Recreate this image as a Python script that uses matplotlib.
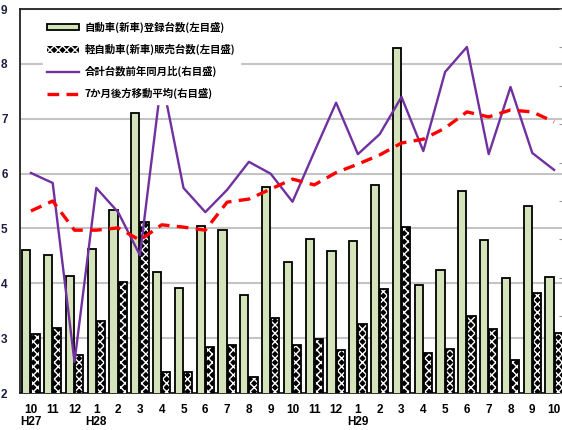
import numpy as np
import matplotlib
matplotlib.use("Agg")
import matplotlib.pyplot as plt
from matplotlib.patches import Patch
from matplotlib.lines import Line2D

# months H27/10 .. H29/10
months = ["10", "11", "12", "1", "2", "3", "4", "5", "6", "7", "8", "9",
          "10", "11", "12", "1", "2", "3", "4", "5", "6", "7", "8", "9", "10"]
year_labels = {0: "H27", 3: "H28", 15: "H29"}

# left axis (bars)
registered = [4.61, 4.52, 4.13, 4.62, 5.34, 7.11, 4.21, 3.91, 5.05, 4.98, 3.79, 5.76,
              4.39, 4.80, 4.59, 4.77, 5.79, 8.28, 3.97, 4.24, 5.69, 4.78, 4.09, 5.41, 4.11]
kei_sales = [3.08, 3.18, 2.70, 3.31, 4.02, 5.11, 2.39, 2.39, 2.84, 2.87, 2.29, 3.36,
             2.87, 2.98, 2.78, 3.26, 3.90, 5.03, 2.73, 2.80, 3.41, 3.17, 2.61, 3.82, 3.10]

# right axis (lines)
yoy = [117.3, 114.7, 68.1, 113.4, 107.1, 95.9, 142.0, 113.4, 107.1, 112.9, 120.2, 117.1,
       109.8, 122.8, 135.6, 122.2, 127.4, 137.1, 123.0, 143.6, 150.1, 122.2, 139.7, 122.5, 118.1]
ma7 = [107.4, 110.0, 102.4, 102.4, 103.0, 99.8, 103.8, 103.2, 102.4, 109.7, 110.5, 113.1,
       115.7, 114.2, 117.4, 119.6, 122.0, 125.1, 126.1, 129.0, 133.2, 131.9, 133.7, 133.2, 130.6]

labels = ["自動車(新車)登録台数(左目盛)", "軽自動車(新車)販売台数(左目盛)",
          "合計台数前年同月比(右目盛)", "7か月後方移動平均(右目盛)"]

green = "#d5e3bb"
purple = "#7030a0"
W, H = 562, 430

fig = plt.figure(figsize=(W / 100, H / 100), dpi=100)
ax = fig.add_axes([20 / W, 37 / H, 545 / W, 384 / H])
x = np.arange(len(months))

ax.bar(x - 0.21, registered, width=0.38, color=green, edgecolor="black", linewidth=1.3, zorder=3)
ax.bar(x + 0.21, kei_sales, width=0.38, color="black", edgecolor="white", hatch="xxxx",
       linewidth=0, zorder=3)
ax.bar(x + 0.21, kei_sales, width=0.38, color="none", edgecolor="black", linewidth=1.3, zorder=4)

ax.set_xlim(-0.5, len(months) - 0.5)
ax.set_ylim(2, 9)
ax.set_yticks(range(2, 10))
ax.grid(axis="y", color="#c4c4c4", linewidth=1.5, zorder=0)
ax.set_axisbelow(True)
ax.set_xticks(x, months)
ax.tick_params(axis="both", length=0, labelsize=8.5)
ax.tick_params(axis="x", pad=8)
ax.tick_params(axis="y", pad=9, labelcolor="#1c1c40")
for lab in ax.get_xticklabels() + ax.get_yticklabels():
    lab.set_fontfamily("Liberation Sans")
    lab.set_fontweight("bold")
for s in ["left", "top", "bottom"]:
    ax.spines[s].set_color("#222222")
    ax.spines[s].set_linewidth(1.3)
ax.spines["right"].set_visible(False)

for i, t in year_labels.items():
    ax.text(i, -0.075, t, transform=ax.get_xaxis_transform(), ha="center", va="center",
            fontsize=8.5, fontweight="bold", family="Liberation Sans")

ax2 = ax.twinx()
ax2.plot(x, yoy, color=purple, linewidth=1.7, zorder=5)
ax2.plot(x, ma7, color="red", linewidth=2.4, dashes=(3.5, 2.2), zorder=6)
ax2.set_ylim(60, 160)
ax2.set_yticks(range(60, 161, 10))
ax2.tick_params(axis="y", direction="in", length=4, color="#999999", labelright=False)
for s in ["left", "top", "bottom", "right"]:
    ax2.spines[s].set_visible(False)

handles = [
    Patch(facecolor=green, edgecolor="black", linewidth=1.3),
    Patch(facecolor="black", edgecolor="white", hatch="xxxx", linewidth=0),
    Line2D([], [], color=purple, linewidth=1.7),
    Line2D([], [], color="red", linewidth=2.4, dashes=(3.5, 2.2)),
]
leg = ax2.legend(handles, labels, loc="upper left", bbox_to_anchor=(38 / W, 1 - 12 / H),
                 bbox_transform=fig.transFigure, frameon=True, framealpha=1, edgecolor="white",
                 fancybox=False, borderpad=0.4, handlelength=3.0, handleheight=0.6,
                 handletextpad=0.6, labelspacing=1.05,
                 prop={"family": ["Noto Sans CJK JP", "DejaVu Sans"], "weight": "bold", "size": 7.5})
leg.set_zorder(10)

fig.savefig("out.png", dpi=100)
